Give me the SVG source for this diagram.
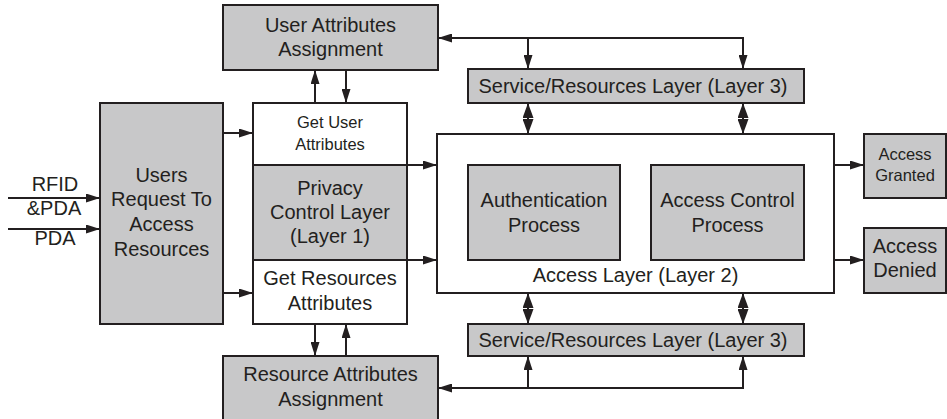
<svg xmlns="http://www.w3.org/2000/svg" width="947" height="419" viewBox="0 0 947 419">
<style>
.box{fill:#c8c8c9;stroke:#231f20;stroke-width:2}
.wbox{fill:#ffffff;stroke:#231f20;stroke-width:2}
.t{font-family:"Liberation Sans",Arial,sans-serif;font-size:20px;fill:#231f20;text-anchor:middle}
.s{font-size:16.5px}
.c{fill:none;stroke:#231f20;stroke-width:2}
</style>
<defs>
<marker id="ah" viewBox="0 0 14 9" refX="14" refY="4.5" markerWidth="14" markerHeight="9" markerUnits="userSpaceOnUse" orient="auto">
<path d="M0,0 L14,4.5 L0,9 Z" fill="#231f20"/>
</marker>
<marker id="dh" viewBox="0 0 15 11" refX="15" refY="5.5" markerWidth="15" markerHeight="11" markerUnits="userSpaceOnUse" orient="auto-start-reverse">
<path d="M0,0 L15,5.5 L0,11 Z" fill="#231f20"/>
</marker>
</defs>

<g id="users">
<rect class="box" x="100" y="103" width="123" height="221"/>
<text class="t" x="161.5" y="182">Users</text>
<text class="t" x="161.5" y="206">Request To</text>
<text class="t" x="161.5" y="231">Access</text>
<text class="t" x="161.5" y="256">Resources</text>
</g>

<g id="inputs-labels">
<text class="t" x="55" y="191">RFID</text>
<text class="t" x="54" y="215">&amp;PDA</text>
<text class="t" x="55" y="245">PDA</text>
</g>

<g id="get-user-attributes">
<rect class="wbox" x="253" y="103" width="154" height="62"/>
<text class="t s" x="330" y="128">Get User</text>
<text class="t s" x="330" y="150">Attributes</text>
</g>

<g id="privacy-control">
<rect class="box" x="253" y="165" width="154" height="95"/>
<text class="t" x="330" y="195">Privacy</text>
<text class="t" x="330" y="219">Control Layer</text>
<text class="t" x="330" y="243">(Layer 1)</text>
</g>

<g id="get-resources-attributes">
<rect class="wbox" x="253" y="260" width="154" height="64"/>
<text class="t" x="330" y="285">Get Resources</text>
<text class="t" x="330" y="310">Attributes</text>
</g>

<g id="user-attributes-assignment">
<rect class="box" x="223" y="5" width="215" height="65"/>
<text class="t" x="330.5" y="32">User Attributes</text>
<text class="t" x="330.5" y="56">Assignment</text>
</g>

<g id="resource-attributes-assignment">
<rect class="box" x="223" y="356" width="215" height="70"/>
<text class="t" x="330.5" y="381">Resource Attributes</text>
<text class="t" x="330.5" y="406">Assignment</text>
</g>

<g id="service-top">
<rect class="box" x="468" y="69" width="336" height="34"/>
<text class="t" x="633" y="93">Service/Resources Layer (Layer 3)</text>
</g>

<g id="service-bottom">
<rect class="box" x="468" y="324" width="336" height="32"/>
<text class="t" x="633" y="347">Service/Resources Layer (Layer 3)</text>
</g>

<g id="access-layer">
<rect class="wbox" x="437" y="134" width="397" height="159"/>
<text class="t" x="635.5" y="282">Access Layer (Layer 2)</text>
</g>

<g id="authentication">
<rect class="box" x="468" y="165" width="152" height="95"/>
<text class="t" x="544" y="207">Authentication</text>
<text class="t" x="544" y="232">Process</text>
</g>

<g id="access-control">
<rect class="box" x="651" y="165" width="153" height="95"/>
<text class="t" x="727.5" y="207">Access Control</text>
<text class="t" x="727.5" y="232">Process</text>
</g>

<g id="access-granted">
<rect class="box" x="864" y="134" width="82" height="64"/>
<text class="t s" x="905" y="160">Access</text>
<text class="t s" x="905" y="181">Granted</text>
</g>

<g id="access-denied">
<rect class="box" x="864" y="228" width="82" height="65"/>
<text class="t" x="905" y="253">Access</text>
<text class="t" x="905" y="277">Denied</text>
</g>

<g id="connectors">
<line class="c" x1="8" y1="198" x2="100" y2="198" marker-end="url(#ah)"/>
<line class="c" x1="8" y1="229" x2="100" y2="229" marker-end="url(#ah)"/>
<line class="c" x1="223" y1="133" x2="253" y2="133" marker-end="url(#ah)"/>
<line class="c" x1="223" y1="293" x2="253" y2="293" marker-end="url(#ah)"/>
<line class="c" x1="315" y1="103" x2="315" y2="70" marker-end="url(#ah)"/>
<line class="c" x1="346" y1="70" x2="346" y2="103" marker-end="url(#ah)"/>
<line class="c" x1="315" y1="324" x2="315" y2="356" marker-end="url(#ah)"/>
<line class="c" x1="346" y1="356" x2="346" y2="324" marker-end="url(#ah)"/>
<line class="c" x1="407" y1="165" x2="437" y2="165" marker-end="url(#ah)"/>
<line class="c" x1="407" y1="260" x2="437" y2="260" marker-end="url(#ah)"/>
<line class="c" x1="834" y1="165" x2="864" y2="165" marker-end="url(#ah)"/>
<line class="c" x1="834" y1="260" x2="864" y2="260" marker-end="url(#ah)"/>
<polyline class="c" points="743,69 743,38 438,38" marker-end="url(#ah)"/>
<line class="c" x1="528" y1="38" x2="528" y2="69" marker-end="url(#ah)"/>
<line class="c" x1="743" y1="38" x2="743" y2="69" marker-end="url(#ah)"/>
<polyline class="c" points="743,356 743,388 438,388" marker-end="url(#ah)"/>
<line class="c" x1="528" y1="388" x2="528" y2="356" marker-end="url(#ah)"/>
<line class="c" x1="743" y1="388" x2="743" y2="356" marker-end="url(#ah)"/>
<line class="c" x1="528" y1="103" x2="528" y2="134" marker-start="url(#dh)" marker-end="url(#dh)"/>
<line class="c" x1="743" y1="103" x2="743" y2="134" marker-start="url(#dh)" marker-end="url(#dh)"/>
<line class="c" x1="528" y1="293" x2="528" y2="324" marker-start="url(#dh)" marker-end="url(#dh)"/>
<line class="c" x1="743" y1="293" x2="743" y2="324" marker-start="url(#dh)" marker-end="url(#dh)"/>
</g>
</svg>
